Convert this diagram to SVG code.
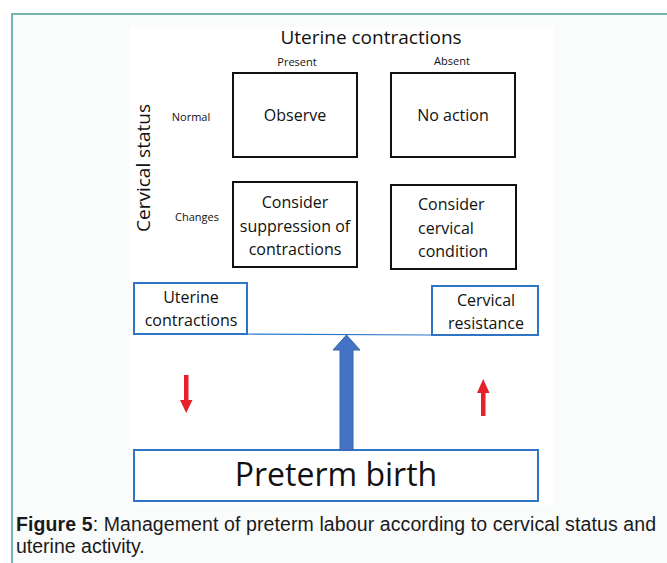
<svg xmlns="http://www.w3.org/2000/svg" width="667" height="563" viewBox="0 0 667 563">
<defs>
<style>
.d{font-family:"Open Sans","Noto Sans",sans-serif;fill:#111}
.bk{fill:#fff;stroke:#111;stroke-width:2}
.bl{fill:#fff;stroke:#2e75c6;stroke-width:2}
.cap{font-family:"Liberation Sans",Arial,sans-serif;font-size:19.5px;fill:#1a1a1a}
</style>
</defs>
<rect x="0" y="0" width="667" height="563" fill="#fff"/>
<rect x="12" y="14" width="670" height="560" fill="#fafbfb" stroke="#72b4b1" stroke-width="2"/>
<rect x="130" y="27" width="424" height="478" fill="#fff"/>
<text class="d" x="371" y="44" font-size="19" text-anchor="middle">Uterine contractions</text>
<text class="d" x="297" y="66" font-size="11" text-anchor="middle">Present</text>
<text class="d" x="452" y="65" font-size="11" text-anchor="middle">Absent</text>
<text class="d" x="191" y="121" font-size="11" text-anchor="middle">Normal</text>
<text class="d" x="197" y="221" font-size="11" text-anchor="middle">Changes</text>
<text class="d" transform="translate(150,168) rotate(-90)" font-size="19" text-anchor="middle">Cervical status</text>
<g id="observe"><rect class="bk" x="233" y="73" width="124" height="84"/><text class="d" x="295" y="121" font-size="16" text-anchor="middle">Observe</text></g>
<g id="noaction"><rect class="bk" x="391" y="73" width="124" height="84"/><text class="d" x="453" y="121" font-size="16" text-anchor="middle">No action</text></g>
<g id="suppress"><rect class="bk" x="233" y="182" width="124" height="85"/><text class="d" font-size="16" text-anchor="middle"><tspan x="295" y="208">Consider</tspan><tspan x="295" y="232">suppression of</tspan><tspan x="295" y="255">contractions</tspan></text></g>
<g id="cervcond"><rect class="bk" x="391" y="185" width="125" height="84"/><text class="d" font-size="16"><tspan x="418" y="210">Consider</tspan><tspan x="418" y="234">cervical</tspan><tspan x="418" y="257">condition</tspan></text></g>
<g id="uterine"><rect class="bl" x="134" y="283" width="113" height="51"/><text class="d" font-size="16" text-anchor="middle"><tspan x="191" y="303">Uterine</tspan><tspan x="191" y="326">contractions</tspan></text></g>
<g id="resistance"><rect class="bl" x="432" y="286" width="106" height="49"/><text class="d" font-size="16" text-anchor="middle"><tspan x="486" y="306">Cervical</tspan><tspan x="486" y="329">resistance</tspan></text></g>
<g id="preterm"><rect class="bl" x="134" y="450" width="404" height="51"/><text class="d" x="336" y="486" font-size="32" text-anchor="middle">Preterm birth</text></g>
<g id="connectors">
<line x1="247" y1="334" x2="432" y2="335" stroke="#2e75c6" stroke-width="1.2"/>
<polygon points="340,450 340,350 333,350 346.5,335 360,350 353,350 353,450" fill="#4472c4" stroke="#3a64b0" stroke-width="1"/>
<polygon points="184,375 188.5,375 188.5,400 192.5,400 186.2,413 180,400 184,400" fill="#e8202a"/>
<polygon points="481,416 485.5,416 485.5,393 489.5,393 483.2,379 477,393 481,393" fill="#e8202a"/>
</g>
<text class="cap" x="16" y="531" textLength="640" lengthAdjust="spacing"><tspan font-weight="bold">Figure 5</tspan>: Management of preterm labour according to cervical status and</text>
<text class="cap" x="16" y="553">uterine activity.</text>
</svg>
